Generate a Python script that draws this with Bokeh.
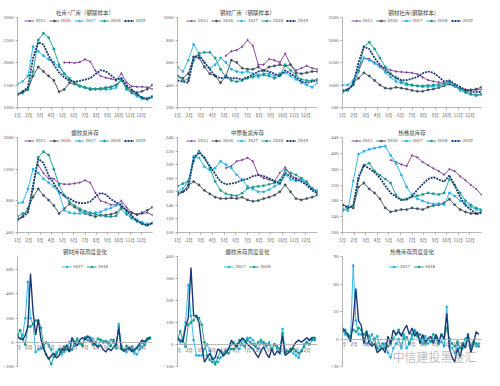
from bokeh.plotting import figure
from bokeh.models import Range1d, FixedTicker, Legend, LegendItem, Label
from bokeh.layouts import gridplot
from bokeh.embed import file_html
from bokeh.resources import INLINE

N = float("nan")

MONTHS = ["1月", "2月", "3月", "4月", "5月", "6月", "7月", "8月", "9月", "10月", "11月", "12月"]
COLORS = {"2015": "#7E3C96", "2016": "#434F60", "2017": "#22B1E6", "2018": "#16998A", "2019": "#1D3A76"}
MARKERS = {"2015": "diamond", "2016": "circle", "2017": "circle", "2018": "circle", "2019": "square"}

WEEKS_BI = list(range(0, 53, 2))   # top panels, every second week
WEEKS_WK = list(range(0, 52))      # weekly-change panels

TITLES = ["社库+厂库（钢联样本）", "钢材厂库（钢联样本）", "钢材社库(钢联样本)",
          "螺纹总库存", "中厚板总库存", "热卷总库存",
          "钢材库存周度变化", "螺纹库存周度变化", "热卷库存周度变化"]

# ---- panel 1: 社库+厂库
P1_2015 = [N]*9 + [2000, 2000, 1990, 2010, 2070, 2020, 1820, 1700, 1660, 1640, 1600, 1760, 1560, 1470, 1460, 1460, 1450, 1410]
P1_2016 = [1300, 1350, 1400, 1700, 1900, 1800, 1700, 1600, 1350, 1400, 1550, 1520, 1470, 1440, 1400, 1410, 1420, 1440, 1460, 1500, 1620, 1450, 1370, 1330, 1360, 1410, 1500]
P1_2017 = [1520, 1580, 1700, 2350, 2250, 2150, 2070, 2000, 1900, 1750, 1650, 1550, 1480, 1440, 1420, 1410, 1400, 1400, 1410, 1440, 1650, 1400, 1320, 1250, 1190, 1180, 1220]
P1_2018 = [1300, 1320, 1400, 1800, 2500, 2650, 2550, 2300, 1950, 1750, 1620, 1550, 1480, 1450, 1420, 1410, 1420, 1430, 1450, 1500, 1600, 1420, 1330, 1280, 1220, 1200, 1250]
P1_2019 = [1280, 1350, 1450, 2100, 2450, 2400, 2150, 1950, 1780, 1670, 1600, 1570, 1590, 1620, 1650, 1740, 1830, 1800, 1720, 1620, 1650, 1500, 1400, 1300, 1220, 1190, 1250]

# ---- panel 2: 钢材厂库
P2_2015 = [N]*9 + [660, 700, 710, 740, 800, 750, 580, 580, 630, 620, 600, 680, 580, 530, 550, 570, 550, 540]
P2_2016 = [480, 460, 500, 650, 640, 560, 500, 480, 420, 480, 620, 600, 550, 540, 540, 560, 530, 560, 570, 580, 570, 580, 510, 500, 510, 520, 520]
P2_2017 = [560, 520, 620, 760, 680, 600, 550, 580, 640, 600, 540, 520, 510, 520, 500, 470, 500, 500, 480, 500, 510, 480, 450, 420, 400, 380, 420]
P2_2018 = [480, 440, 450, 620, 680, 690, 690, 640, 540, 470, 440, 430, 440, 460, 470, 490, 490, 480, 460, 480, 580, 530, 490, 450, 440, 440, 450]
P2_2019 = [440, 430, 420, 650, 660, 600, 540, 480, 460, 470, 460, 460, 450, 470, 490, 520, 530, 520, 500, 480, 530, 500, 470, 430, 420, 430, 440]

# ---- panel 3: 钢材社库
P3_2015 = [N]*3 + [1300, 1600, 1580, 1500, 1420, 1370, 1330, 1300, 1290, 1280, 1270, 1240, 1170, 1110, 1080, 1060, 1040, 1020, 970, 920, 900, 890, 890, 900]
P3_2016 = [850, 900, 1050, 1150, 1270, 1200, 1100, 1000, 930, 920, 950, 930, 910, 880, 860, 860, 890, 910, 940, 980, 1020, 970, 910, 880, 890, 910, 950]
P3_2017 = [1000, 1000, 1100, 1400, 1600, 1550, 1480, 1400, 1280, 1170, 1080, 1040, 1000, 990, 980, 960, 960, 970, 980, 1000, 1050, 980, 880, 830, 790, 760, 780]
P3_2018 = [850, 880, 1000, 1300, 1850, 1950, 1800, 1600, 1400, 1250, 1150, 1080, 1030, 1000, 980, 980, 990, 1000, 1010, 1030, 1080, 1000, 920, 850, 800, 780, 800]
P3_2019 = [880, 900, 1000, 1500, 1850, 1800, 1600, 1450, 1330, 1230, 1170, 1110, 1110, 1140, 1180, 1260, 1300, 1270, 1180, 1080, 1100, 1020, 960, 890, 850, 840, 850]

# ---- panel 4: 螺纹总库存
P4_2015 = [N]*4 + [1250, 1150, 1080, 1080, 1020, 1010, 1010, 1020, 1030, 1060, 1030, 900, 800, 780, 750, 750, 800, 720, 650, 620, 640, 650, 620]
P4_2016 = [560, 600, 700, 850, 950, 870, 810, 740, 640, 700, 760, 720, 680, 640, 620, 600, 620, 620, 630, 650, 720, 680, 650, 630, 650, 680, 720]
P4_2017 = [770, 780, 950, 1200, 1150, 1080, 1030, 980, 900, 680, 650, 640, 640, 650, 640, 650, 660, 690, 710, 740, 760, 660, 600, 560, 530, 510, 520]
P4_2018 = [600, 640, 660, 950, 1350, 1420, 1380, 1200, 1000, 870, 790, 740, 700, 670, 650, 630, 615, 605, 600, 610, 700, 630, 580, 540, 510, 490, 520]
P4_2019 = [560, 600, 650, 1000, 1330, 1280, 1120, 1020, 920, 860, 830, 790, 770, 770, 790, 850, 900, 880, 820, 780, 740, 680, 610, 550, 510, 490, 520]

# ---- panel 5: 中厚板总库存
P5_2015 = [N]*9 + [195, 198, 205, 207, 210, 205, 185, 180, 178, 175, 188, 196, 185, 180, 178, 172, 165, 160]
P5_2016 = [155, 160, 170, 175, 170, 162, 157, 152, 150, 150, 151, 150, 152, 148, 146, 147, 150, 152, 155, 160, 170, 160, 150, 148, 150, 152, 155]
P5_2017 = [160, 165, 175, 212, 210, 197, 192, 195, 205, 200, 195, 185, 178, 168, 164, 160, 160, 163, 168, 172, 185, 178, 176, 178, 172, 165, 162]
P5_2018 = [168, 172, 175, 205, 220, 210, 195, 175, 162, 157, 155, 154, 158, 165, 167, 168, 169, 171, 173, 177, 192, 188, 185, 180, 175, 165, 157]
P5_2019 = [158, 160, 165, 210, 218, 210, 198, 186, 175, 171, 172, 174, 177, 179, 183, 185, 183, 180, 176, 172, 188, 182, 178, 175, 170, 162, 158]

# ---- panel 6: 热卷总库存
P6_2015 = [N]*9 + [383, 378, 372, 368, 395, 390, 378, 370, 362, 355, 346, 360, 355, 342, 332, 320, 310, 295]
P6_2016 = [270, 265, 262, 315, 325, 310, 300, 285, 262, 252, 255, 258, 258, 262, 260, 258, 264, 268, 270, 275, 284, 270, 258, 252, 248, 248, 252]
P6_2017 = [260, 255, 330, 398, 405, 410, 413, 416, 418, 395, 375, 345, 315, 295, 285, 280, 275, 272, 273, 270, 300, 292, 280, 272, 265, 258, 255]
P6_2018 = [255, 262, 265, 335, 370, 375, 355, 345, 335, 325, 295, 283, 285, 290, 293, 296, 300, 298, 296, 300, 335, 320, 300, 280, 270, 262, 258]
P6_2019 = [270, 262, 268, 340, 370, 362, 352, 338, 318, 300, 290, 282, 283, 292, 308, 322, 335, 340, 334, 328, 345, 318, 290, 268, 258, 246, 250]

# ---- panel 7: 钢材库存周度变化
P7_2017 = [60, 30, 60, 200, 500, 200, 150, -80, -60, -50, -40, 0, -20, -60, -120, -80, -60, -100, -80, -60, 0, 20, -30, 10, 0, -20, 30, 50, 40, 30, -10, -30, 20, 10, 0, -10, 20, 0, -50, 150, -30, -70, -80, -60, -40, -90, -100, -60, -40, 10, 30, 40]
P7_2018 = [60, 100, 30, -20, 130, 130, 150, 180, 180, 120, -20, -100, -130, -180, -120, -100, -60, -80, -40, -60, -70, -60, 0, 30, -10, -30, 40, 20, 10, -20, 0, 30, 20, 0, 10, 0, -30, 20, -20, 130, -50, -60, -30, -50, -60, -70, -50, -30, 0, -20, 20, 30]
P7_2019 = [50, 30, 20, 60, 130, 570, 250, 60, 190, 30, -50, -100, -140, -110, -90, -130, -110, -50, -70, -20, -80, 40, 0, -30, 20, 40, 20, 50, 30, 0, -20, -40, -20, -60, -80, -50, -70, -40, -20, 120, -60, -70, -60, -40, -80, -60, -40, -10, 20, 0, 30, 40]

# ---- panel 8: 螺纹库存周度变化
P8_2017 = [30, 10, 30, 100, 270, 130, 20, -50, -50, -50, -20, 0, -30, -60, -80, -80, -60, -40, -30, -20, 0, 10, -10, -20, 20, 10, 30, 30, 20, 0, -20, 10, 0, -10, 10, -20, 0, -20, -40, 70, -30, -30, -30, -40, -50, -60, -30, 0, 10, 20, 30, 30]
P8_2018 = [20, 60, 20, -10, 90, 100, 110, 130, 120, 90, 10, -50, -70, -80, -90, -60, -30, -50, -30, -40, -20, -20, 0, 20, 0, -10, 20, 10, 0, -10, 10, 20, 10, 0, 0, -20, 0, -10, -20, 50, -40, -30, -20, -20, -30, -40, -30, -10, 10, 0, 20, 20]
P8_2019 = [30, 20, 10, 80, 120, 350, 130, 130, 100, 0, -80, -60, -40, -70, -60, -20, -30, -50, -40, -20, 20, 0, -10, 10, 30, 20, 0, -10, -20, -40, -60, -30, -10, -40, -60, -20, -50, -30, -40, 40, -50, -40, -30, -10, 10, 20, 10, 20, 30, 20, 30, 30]

# ---- panel 9: 热卷库存周度变化
P9_2017 = [10, 5, 3, 0, 80, 20, 5, 5, 0, -5, -3, 5, 0, 3, -8, -10, -5, -15, -20, -10, -5, 0, -10, 5, -10, -5, 0, 10, 5, 0, -5, 3, -5, -2, 0, 3, -5, -3, -8, 35, -8, -10, -15, -5, -18, -10, -5, 0, -10, -5, -8, -5]
P9_2018 = [8, 10, 5, 3, 10, 8, 12, 10, 5, 8, 3, -5, 0, -10, -12, -5, -10, -8, -5, 0, 5, 10, 5, 0, 2, -5, 5, 8, 3, 5, 0, -5, 0, -3, 5, 0, -5, 5, 0, 12, 0, -5, -8, -3, -10, -5, 0, 5, -8, -3, -5, -8]
P9_2019 = [12, 8, 5, -3, 20, 55, 20, 15, -5, 8, -5, -8, -5, -15, -12, -10, -15, 3, -5, 10, 5, 8, 3, 10, 15, 5, 12, 3, 8, -5, 5, -3, 0, 3, -5, 5, -3, 5, 0, 28, -10, -20, -25, -10, -20, -5, -10, 5, -15, -5, 8, 5]

YRANGES = [(1000, 3000, 500), (200, 1000, 200), (500, 2500, 500),
           (400, 1600, 400), (100, 240, 20), (200, 440, 40),
           (-200, 710, 200), (-100, 400, 100), (-30, 90, 30)]

WIDTHS = [155, 165, 164]
LEFTS = [15, 22, 22]
HEIGHTS = [120, 125, 125]

LABEL_FONT = "Liberation Serif"
CJK_FONT = "Noto Sans CJK SC"


def make_panel(idx, series, weeks, legend_years, weekly):
    row, col = divmod(idx, 3)
    y0, y1, ystep = YRANGES[idx]
    p = figure(width=WIDTHS[col], height=HEIGHTS[row], output_backend="svg", toolbar_location=None,
               x_range=Range1d(0, 12), y_range=Range1d(y0, y1),
               min_border_left=LEFTS[col], min_border_right=3,
               min_border_top=(6 if weekly else 17), min_border_bottom=(4 if weekly else 8))
    p.title.text = TITLES[idx]
    p.title.align = "center"
    p.title.text_font = CJK_FONT
    p.title.text_font_size = "5.5px"
    p.title.text_font_style = "normal"
    p.title.text_color = "#404040"
    p.title.standoff = 1
    p.outline_line_color = None
    p.grid.visible = False
    p.background_fill_color = "white"

    xs = [w * 12 / 52 for w in weeks]
    items = []
    for yr, vals in series:
        c = COLORS[yr]
        if yr == "2019":
            if weekly:
                rs = [p.line(xs, vals, line_color=c, line_width=1.4)]
            else:
                rs = [p.line(xs, vals, line_color=c, line_width=1.8, line_dash="2 1")]
        else:
            r1 = p.line(xs, vals, line_color=c, line_width=0.9)
            r2 = p.scatter(xs, vals, marker=MARKERS[yr], size=2.3,
                           fill_color=c, line_color=c, line_width=0.5)
            rs = [r1, r2]
        if yr in legend_years:
            items.append(LegendItem(label=yr, renderers=rs))

    legend = Legend(items=items, orientation="horizontal", location="top_center",
                    label_text_font=LABEL_FONT, label_text_font_size="5px", label_text_color="#404040",
                    glyph_width=10, glyph_height=5, label_standoff=2, spacing=3,
                    padding=0, margin=(8 if weekly else 1), background_fill_alpha=0, border_line_alpha=0,
                    label_height=5, label_width=10)
    p.add_layout(legend)

    xa = p.xaxis[0]
    xa.ticker = FixedTicker(ticks=list(range(12)))
    xa.major_label_overrides = {i: m for i, m in enumerate(MONTHS)}
    ya = p.yaxis[0]
    ya.ticker = FixedTicker(ticks=list(range(y0, y1 + 1, ystep)))
    for ax in (xa, ya):
        ax.axis_line_color = "#A6A6A6"
        ax.axis_line_width = 0.8
        ax.major_tick_line_color = "#A6A6A6"
        ax.major_tick_out = 2
        ax.major_tick_in = 0
        ax.minor_tick_line_color = None
        ax.major_label_text_font_size = "5px"
        ax.major_label_text_font = LABEL_FONT
        ax.major_label_text_color = "#595959"
        ax.major_label_standoff = 2
    xa.major_label_text_font = CJK_FONT
    xa.major_label_text_font_size = "4.5px"
    if weekly:
        xa.fixed_location = 0
        xa.major_tick_out = 0
    return p


panels = []
top_sets = [
    (P1_2015, P1_2016, P1_2017, P1_2018, P1_2019),
    (P2_2015, P2_2016, P2_2017, P2_2018, P2_2019),
    (P3_2015, P3_2016, P3_2017, P3_2018, P3_2019),
    (P4_2015, P4_2016, P4_2017, P4_2018, P4_2019),
    (P5_2015, P5_2016, P5_2017, P5_2018, P5_2019),
    (P6_2015, P6_2016, P6_2017, P6_2018, P6_2019),
]
YEARS = ["2015", "2016", "2017", "2018", "2019"]
for i, s in enumerate(top_sets):
    panels.append(make_panel(i, list(zip(YEARS, s)), WEEKS_BI, YEARS, False))

bottom_sets = [(P7_2017, P7_2018, P7_2019), (P8_2017, P8_2018, P8_2019), (P9_2017, P9_2018, P9_2019)]
for j, s in enumerate(bottom_sets):
    panels.append(make_panel(6 + j, list(zip(["2017", "2018", "2019"], s)), WEEKS_WK, ["2017", "2018"], True))

panels[8].add_layout(Label(x=50, y=2, x_units="screen", y_units="screen", text="中信建投黑金汇",
                           text_font=CJK_FONT, text_font_size="12px", text_color="#A0A0A0", text_alpha=0.7))

grid = gridplot([panels[0:3], panels[3:6], panels[6:9]], toolbar_location=None)

open("out.html", "w").write(file_html(grid, INLINE))
